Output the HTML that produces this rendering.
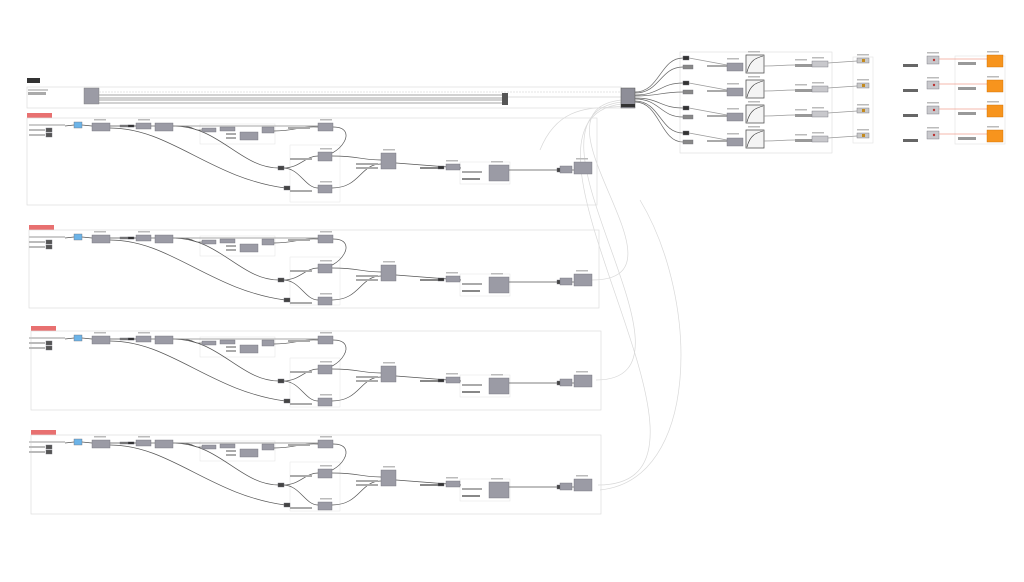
<!DOCTYPE html>
<html><head><meta charset="utf-8"><style>
html,body{margin:0;padding:0;background:#fff;width:1024px;height:582px;overflow:hidden}
svg{display:block;font-family:"Liberation Sans",sans-serif}
</style></head><body>
<svg id="s" width="1024" height="582" viewBox="0 0 1024 582" xmlns="http://www.w3.org/2000/svg">
<rect width="1024" height="582" fill="#fff"/>
<!-- long faint curves -->
<g fill="none" stroke="#d8d8d8" stroke-width="0.7">
<path d="M592,280 C700,280 520,110 622,100"/>
<path d="M596,380 C720,380 500,115 622,102"/>
<path d="M598,485 C760,485 480,120 622,104"/>
<path d="M540,150 C560,100 600,110 622,106"/>
<path d="M600,490 C700,480 700,300 640,200"/>
</g>
<!-- top row -->
<rect x="27" y="78" width="13" height="5" fill="#333"/>
<rect x="27" y="87" width="594" height="21" fill="none" stroke="#ddd" stroke-width="0.7"/>
<rect x="28" y="89" width="20" height="2" fill="#ccc"/>
<rect x="28" y="92" width="18" height="3" fill="#aaa"/>
<rect x="84" y="88" width="15" height="16" fill="#9b9ba5" stroke="#777" stroke-width="0.4"/>
<g stroke="#888" stroke-width="0.8">
<line x1="99" y1="95" x2="505" y2="95"/><line x1="99" y1="98" x2="505" y2="98"/>
<line x1="99" y1="100" x2="505" y2="100"/><line x1="99" y1="103" x2="505" y2="103"/>
</g>
<line x1="99" y1="92" x2="621" y2="92" stroke="#ccc" stroke-width="0.6" stroke-dasharray="2 1"/>
<rect x="502" y="93" width="6" height="12" fill="#555"/>
<line x1="508" y1="97" x2="621" y2="97" stroke="#bbb" stroke-width="0.6"/>
<rect x="621" y="88" width="14" height="20" fill="#8e8e98" stroke="#555" stroke-width="0.5"/>
<rect x="621" y="104" width="14" height="3" fill="#333"/>
<g id="secs"></g>
<g id="right"></g>
</svg>
<script>
var NS="http://www.w3.org/2000/svg";
function el(p,t,a){var e=document.createElementNS(NS,t);for(var k in a)e.setAttribute(k,a[k]);p.appendChild(e);return e;}
var S=document.getElementById("secs");
function node(g,x,y,w,h,f){el(g,"rect",{x:x,y:y,width:w,height:h,fill:f||"#9b9ba5",stroke:"#6e6e78","stroke-width":0.4});}
function wire(g,d,c){el(g,"path",{d:d,fill:"none",stroke:c||"#555","stroke-width":0.7});}
var secs=[[118,87,27],[230,78,29],[331,79,31],[435,79,31]];
secs.forEach(function(s,i){
 var y=s[0],h=s[1],x0=s[2],g=el(S,"g",{});
 el(g,"rect",{x:x0,y:y-5,width:25,height:5,fill:"#e87070"});
 el(g,"rect",{x:x0,y:y,width:570,height:h,fill:"none",stroke:"#ddd","stroke-width":0.7});
 el(g,"rect",{x:200,y:y+6,width:75,height:20,fill:"none",stroke:"#e2e2e2","stroke-width":0.5});
 el(g,"rect",{x:290,y:y+27,width:50,height:h-30,fill:"none",stroke:"#e6e6e6","stroke-width":0.5});
 el(g,"rect",{x:460,y:y+44,width:50,height:22,fill:"none",stroke:"#e2e2e2","stroke-width":0.5});
 // inputs
 el(g,"rect",{x:29,y:y+6,width:36,height:2,fill:"#ccc"});
 el(g,"rect",{x:29,y:y+11,width:16,height:2,fill:"#bbb"});node(g,46,y+10,6,4,"#555");
 el(g,"rect",{x:29,y:y+16,width:16,height:2,fill:"#bbb"});node(g,46,y+15,6,4,"#555");
 // wires
 var m=y+8;
 wire(g,"M65,"+m+" L74,"+(y+7));
 wire(g,"M82,"+(y+7)+" L92,"+m);
 wire(g,"M110,"+m+" L136,"+m);
 wire(g,"M151,"+m+" L155,"+m);
 wire(g,"M173,"+m+" C200,"+m+" 190,"+(y+13)+" 202,"+(y+12));
 wire(g,"M173,"+m+" C220,"+m+" 240,"+(y+50)+" 279,"+(y+50));
 wire(g,"M110,"+(m+2)+" C170,"+(m+2)+" 210,"+(y+60)+" 285,"+(y+70));
 wire(g,"M173,"+m+" L318,"+(y+8),"#888");
 wire(g,"M274,"+(y+13)+" C295,"+(y+13)+" 300,"+(y+8)+" 318,"+(y+9));
 wire(g,"M333,"+(y+9)+" C360,"+(y+9)+" 340,"+(y+40)+" 318,"+(y+38));
 wire(g,"M283,"+(y+50)+" C300,"+(y+50)+" 305,"+(y+38)+" 318,"+(y+38));
 wire(g,"M283,"+(y+50)+" C300,"+(y+50)+" 305,"+(y+70)+" 318,"+(y+70));
 wire(g,"M332,"+(y+38)+" C360,"+(y+38)+" 360,"+(y+42)+" 381,"+(y+42));
 wire(g,"M332,"+(y+70)+" C360,"+(y+70)+" 360,"+(y+46)+" 381,"+(y+46));
 wire(g,"M396,"+(y+45)+" L461,"+(y+50));
 wire(g,"M509,"+(y+52)+" L558,"+(y+52));
 wire(g,"M570,"+(y+52)+" L574,"+(y+52));
 // nodes
 node(g,74,y+4,8,6,"#6cb4e8");
 node(g,92,y+5,18,8);node(g,120,y+7,14,2,"#777");node(g,128,y+7,6,2,"#222");
 node(g,136,y+5,15,6);node(g,155,y+5,18,8);
 node(g,202,y+10,14,4);node(g,220,y+9,15,4);node(g,240,y+14,18,8);
 el(g,"rect",{x:226,y:y+15,width:10,height:2,fill:"#aaa"});el(g,"rect",{x:226,y:y+19,width:10,height:2,fill:"#aaa"});
 node(g,262,y+9,12,6);
 el(g,"rect",{x:288,y:y+9,width:22,height:2,fill:"#aaa"});
 node(g,318,y+5,15,8);
 el(g,"rect",{x:290,y:y+40,width:22,height:2,fill:"#aaa"});
 node(g,318,y+34,14,9);
 node(g,278,y+48,6,4,"#444");node(g,284,y+68,6,4,"#444");
 el(g,"rect",{x:290,y:y+72,width:22,height:2,fill:"#aaa"});
 node(g,318,y+67,14,8);
 el(g,"rect",{x:356,y:y+45,width:22,height:2,fill:"#aaa"});el(g,"rect",{x:356,y:y+49,width:22,height:2,fill:"#aaa"});
 node(g,381,y+35,15,16);
 el(g,"rect",{x:420,y:y+49,width:18,height:2,fill:"#888"});node(g,438,y+48,6,3,"#333");
 node(g,446,y+46,14,6);
 el(g,"rect",{x:462,y:y+53,width:20,height:2,fill:"#aaa"});el(g,"rect",{x:462,y:y+60,width:18,height:2,fill:"#888"});
 node(g,489,y+47,20,16);
 node(g,557,y+50,6,4,"#444");node(g,560,y+48,12,7);node(g,574,y+44,18,12);
 // tiny labels
 [[94,y+1],[138,y+1],[320,y+1],[320,y+30],[320,y+63],[383,y+31],[491,y+43],[576,y+40],[446,y+42]].forEach(function(p){el(g,"rect",{x:p[0],y:p[1],width:12,height:1.5,fill:"#bbb"});});
});
// right block
var R=document.getElementById("right");
el(R,"rect",{x:680,y:52,width:152,height:101,fill:"none",stroke:"#ddd","stroke-width":0.6});
el(R,"rect",{x:853,y:57,width:20,height:86,fill:"none",stroke:"#e2e2e2","stroke-width":0.6});
el(R,"rect",{x:955,y:56,width:50,height:88,fill:"none",stroke:"#e2e2e2","stroke-width":0.6});
[0,25,50,75].forEach(function(d,i){
 var y=58+d;
 wire(R,"M635,"+(92+i*3)+" C660,"+(92+i*3)+" 660,"+y+" 683,"+y,"#666");
 wire(R,"M635,"+(93+i*3)+" C660,"+(93+i*3)+" 660,"+(y+9)+" 683,"+(y+9),"#666");
 node(R,683,y-2,6,4,"#333");node(R,683,y+7,10,4,"#888");
 el(R,"rect",{x:707,y:y+7,width:22,height:2,fill:"#aaa"});
 wire(R,"M689,"+y+" L727,"+(y+7),"#999");
 node(R,727,y+5,16,8);
 el(R,"rect",{x:746,y:y-3,width:18,height:18,fill:"#f4f4f4",stroke:"#555","stroke-width":0.8});
 el(R,"path",{d:"M747,"+(y+14)+" C750,"+(y+2)+" 756,"+(y)+" 763,"+(y-2),fill:"none",stroke:"#333","stroke-width":0.6});
 wire(R,"M764,"+(y+8)+" C780,"+(y+8)+" 780,"+(y+7)+" 795,"+(y+7),"#999");
 el(R,"rect",{x:795,y:y+6,width:18,height:3,fill:"#999"});
 node(R,812,y+3,16,6,"#c8c8cc");
 wire(R,"M828,"+(y+5)+" L857,"+(y+3),"#999");
 node(R,857,y,12,5,"#c8c8c8");el(R,"rect",{x:862,y:y+1,width:3,height:3,fill:"#c48a1e"});
 el(R,"rect",{x:903,y:y+6,width:15,height:3,fill:"#666"});
 node(R,927,y-2,12,8,"#c8c8cc");el(R,"circle",{cx:934,cy:y+2,r:1.2,fill:"#b33"});
 el(R,"line",{x1:939,y1:y+1,x2:987,y2:y+1,stroke:"#f0a090","stroke-width":0.8});
 el(R,"rect",{x:958,y:y+4,width:18,height:3,fill:"#999"});
 el(R,"rect",{x:987,y:y-3,width:16,height:12,fill:"#f7941d",stroke:"#c86a00","stroke-width":0.4});
 [[727,y],[748,y-7],[795,y+1],[812,y-1],[857,y-4],[927,y-6],[987,y-7]].forEach(function(p){el(R,"rect",{x:p[0],y:p[1],width:12,height:1.5,fill:"#bbb"});});
});
</script>
</body></html>
